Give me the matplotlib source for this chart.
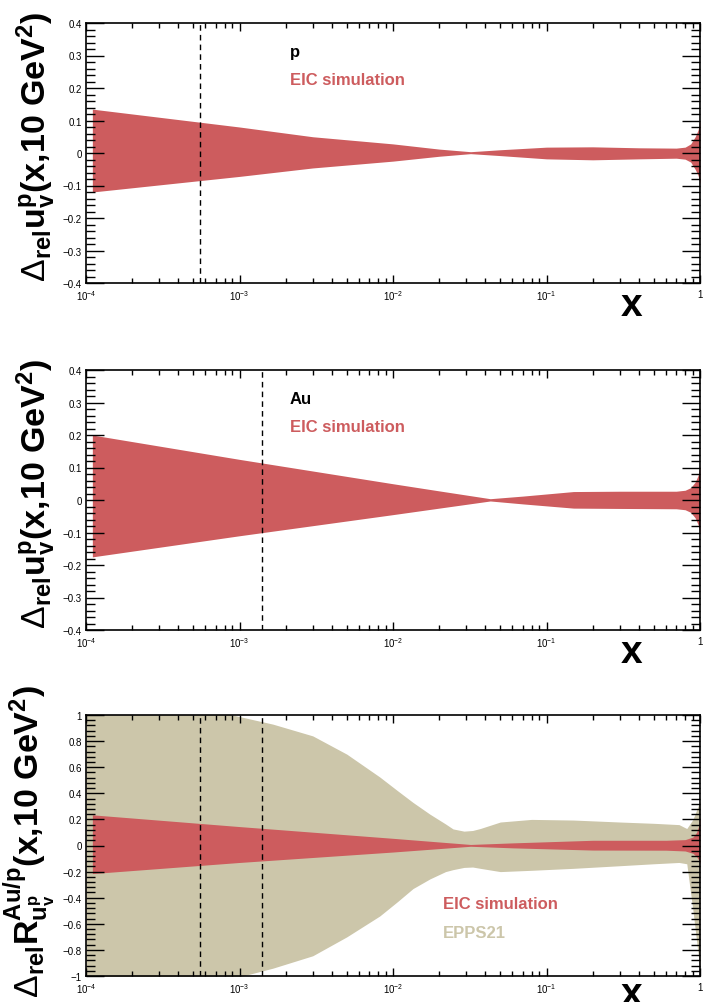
import numpy as np
import matplotlib.pyplot as plt
from matplotlib.ticker import FixedLocator, FixedFormatter, MultipleLocator, LogLocator, NullFormatter

plt.rcParams['font.family'] = ['Liberation Sans', 'DejaVu Sans']
plt.rcParams['mathtext.fontset'] = 'custom'
plt.rcParams['mathtext.rm'] = 'Liberation Sans'
plt.rcParams['mathtext.it'] = 'Liberation Sans:italic'
plt.rcParams['mathtext.bf'] = 'Liberation Sans:bold'

red = '#cd5c5e'
beige = '#ccc6aa'

# panel 1: proton, EIC band
x_p = [1.1e-4, 1e-3, 3e-3, 1e-2, 0.02, 0.032, 0.05, 0.1, 0.2, 0.4, 0.7, 0.8, 0.87, 0.93, 0.97, 0.99, 1.0]
up_p = [0.135, 0.080, 0.050, 0.028, 0.012, 0.004, 0.010, 0.018, 0.019, 0.016, 0.015, 0.018, 0.028, 0.050, 0.070, 0.088, 0.100]
lo_p = [-0.120, -0.072, -0.046, -0.025, -0.010, -0.002, -0.008, -0.018, -0.021, -0.018, -0.016, -0.019, -0.028, -0.050, -0.068, -0.085, -0.095]

# panel 2: Au, EIC band
x_au = [1.1e-4, 1e-3, 1e-2, 0.02, 0.043, 0.07, 0.15, 0.3, 0.7, 0.8, 0.87, 0.93, 0.97, 0.99, 1.0]
up_au = [0.200, 0.125, 0.050, 0.028, 0.004, 0.012, 0.026, 0.027, 0.027, 0.030, 0.038, 0.055, 0.075, 0.092, 0.105]
lo_au = [-0.175, -0.110, -0.045, -0.025, -0.003, -0.012, -0.025, -0.026, -0.027, -0.030, -0.038, -0.055, -0.075, -0.092, -0.105]

# panel 3: ratio Au/p, EIC band
x_r = [1.1e-4, 1e-3, 1e-2, 0.032, 0.06, 0.2, 0.6, 0.8, 0.9, 0.95, 0.98, 1.0]
up_r = [0.235, 0.145, 0.055, 0.008, 0.020, 0.040, 0.040, 0.045, 0.065, 0.100, 0.150, 0.220]
lo_r = [-0.215, -0.130, -0.050, -0.006, -0.018, -0.035, -0.036, -0.042, -0.060, -0.085, -0.110, -0.140]

# panel 3: EPPS21 band
x_epps = [1e-4, 3e-4, 6e-4, 9e-4, 1.65e-3, 3e-3, 5e-3, 8.2e-3, 0.0107, 0.0135, 0.0174, 0.022, 0.0246, 0.029,
          0.033, 0.037, 0.05, 0.08, 0.15, 0.3, 0.5, 0.73, 0.82, 0.9, 1.0]
up_epps = [1.6, 1.35, 1.12, 1.0, 0.93, 0.84, 0.70, 0.525, 0.42, 0.33, 0.24, 0.165, 0.127, 0.11,
           0.115, 0.13, 0.18, 0.20, 0.195, 0.18, 0.17, 0.16, 0.13, 0.20, 0.34]
lo_epps = [-1.6, -1.35, -1.15, -1.02, -0.94, -0.845, -0.70, -0.54, -0.43, -0.33, -0.256, -0.20, -0.185, -0.168,
           -0.165, -0.175, -0.20, -0.19, -0.175, -0.155, -0.14, -0.13, -0.14, -0.50, -0.95]

dash_p = 5.5e-4
dash_au = 1.4e-3

xticks = [1e-4, 1e-3, 1e-2, 1e-1, 1]
xtick_labels = ['$10^{-4}$', '$10^{-3}$', '$10^{-2}$', '$10^{-1}$', '1']
yticks_small = [-0.4, -0.3, -0.2, -0.1, 0, 0.1, 0.2, 0.3, 0.4]
ytick_small_labels = ['\u22120.4', '\u22120.3', '\u22120.2', '\u22120.1', '0', '0.1', '0.2', '0.3', '0.4']
yticks_big = [-1, -0.8, -0.6, -0.4, -0.2, 0, 0.2, 0.4, 0.6, 0.8, 1]
ytick_big_labels = ['\u22121', '\u22120.8', '\u22120.6', '\u22120.4', '\u22120.2', '0', '0.2', '0.4', '0.6', '0.8', '1']

ylab_uv = r'$\Delta_{\mathbf{rel}}\mathbf{u_{v}^{p}(x{,}10\ GeV^{2})}$'
ylab_r = r'$\Delta_{\mathbf{rel}}\mathbf{R_{u_{v}^{p}}^{Au/p}(x{,}10\ GeV^{2})}$'

fig = plt.figure(figsize=(7.04, 10.03), dpi=100)
W, H = 704.0, 1003.0


def make_axes(top, bottom):
    return fig.add_axes([86 / W, 1 - bottom / H, 614 / W, (bottom - top) / H])


def style(ax, yticks, ylabels, ylim, minor, xlab_y):
    ax.set_xscale('log')
    ax.set_xlim(1e-4, 1)
    ax.set_ylim(*ylim)
    ax.xaxis.set_major_locator(FixedLocator(xticks))
    ax.xaxis.set_major_formatter(FixedFormatter(xtick_labels))
    ax.xaxis.set_minor_locator(LogLocator(base=10, subs=np.arange(2, 10), numticks=20))
    ax.xaxis.set_minor_formatter(NullFormatter())
    ax.yaxis.set_major_locator(FixedLocator(yticks))
    ax.yaxis.set_major_formatter(FixedFormatter(ylabels))
    ax.yaxis.set_minor_locator(MultipleLocator(minor))
    ax.tick_params(which='both', direction='in', top=True, right=True, width=1.0, labelsize=7)
    ax.tick_params(axis='y', which='major', length=13, pad=3)
    ax.tick_params(axis='y', which='minor', length=6.5)
    ax.tick_params(axis='x', which='major', length=5.5, pad=4)
    ax.tick_params(axis='x', which='minor', length=3.5)
    for s in ax.spines.values():
        s.set_linewidth(1.2)
    ax.text(0.889, xlab_y, 'x', transform=ax.transAxes, fontsize=28, fontweight='bold',
            ha='center', va='center')


# panel 1
ax1 = make_axes(24, 284)
ax1.fill_between(x_p, lo_p, up_p, color=red, lw=0)
ax1.axvline(dash_p, color='k', lw=1, ls=(0, (4, 3)))
style(ax1, yticks_small, ytick_small_labels, (-0.4, 0.4), 0.02, -0.085)
ax1.set_ylabel(ylab_uv, fontsize=24.5)
ax1.yaxis.set_label_coords(-0.045, 0.53)
ax1.text(0.332, 0.892, 'p', transform=ax1.transAxes, fontsize=12, fontweight='bold', va='center')
ax1.text(0.332, 0.781, 'EIC simulation', transform=ax1.transAxes, fontsize=12,
         fontweight='bold', color=red, va='center')

# panel 2
ax2 = make_axes(371, 631)
ax2.fill_between(x_au, lo_au, up_au, color=red, lw=0)
ax2.axvline(dash_au, color='k', lw=1, ls=(0, (4, 3)))
style(ax2, yticks_small, ytick_small_labels, (-0.4, 0.4), 0.02, -0.085)
ax2.set_ylabel(ylab_uv, fontsize=24.5)
ax2.yaxis.set_label_coords(-0.045, 0.53)
ax2.text(0.332, 0.892, 'Au', transform=ax2.transAxes, fontsize=12, fontweight='bold', va='center')
ax2.text(0.332, 0.781, 'EIC simulation', transform=ax2.transAxes, fontsize=12,
         fontweight='bold', color=red, va='center')

# panel 3
ax3 = make_axes(716, 977)
ax3.fill_between(x_epps, lo_epps, up_epps, color=beige, lw=0)
ax3.fill_between(x_r, lo_r, up_r, color=red, lw=0)
ax3.axvline(dash_p, color='k', lw=1, ls=(0, (4, 3)))
ax3.axvline(dash_au, color='k', lw=1, ls=(0, (4, 3)))
style(ax3, yticks_big, ytick_big_labels, (-1, 1), 0.04, -0.07)
ax3.set_ylabel(ylab_r, fontsize=24.5)
ax3.yaxis.set_label_coords(-0.045, 0.52)
ax3.text(0.581, 0.276, 'EIC simulation', transform=ax3.transAxes, fontsize=12,
         fontweight='bold', color=red, va='center')
ax3.text(0.581, 0.165, 'EPPS21', transform=ax3.transAxes, fontsize=12,
         fontweight='bold', color=beige, va='center')

fig.savefig('out.png', dpi=100)
